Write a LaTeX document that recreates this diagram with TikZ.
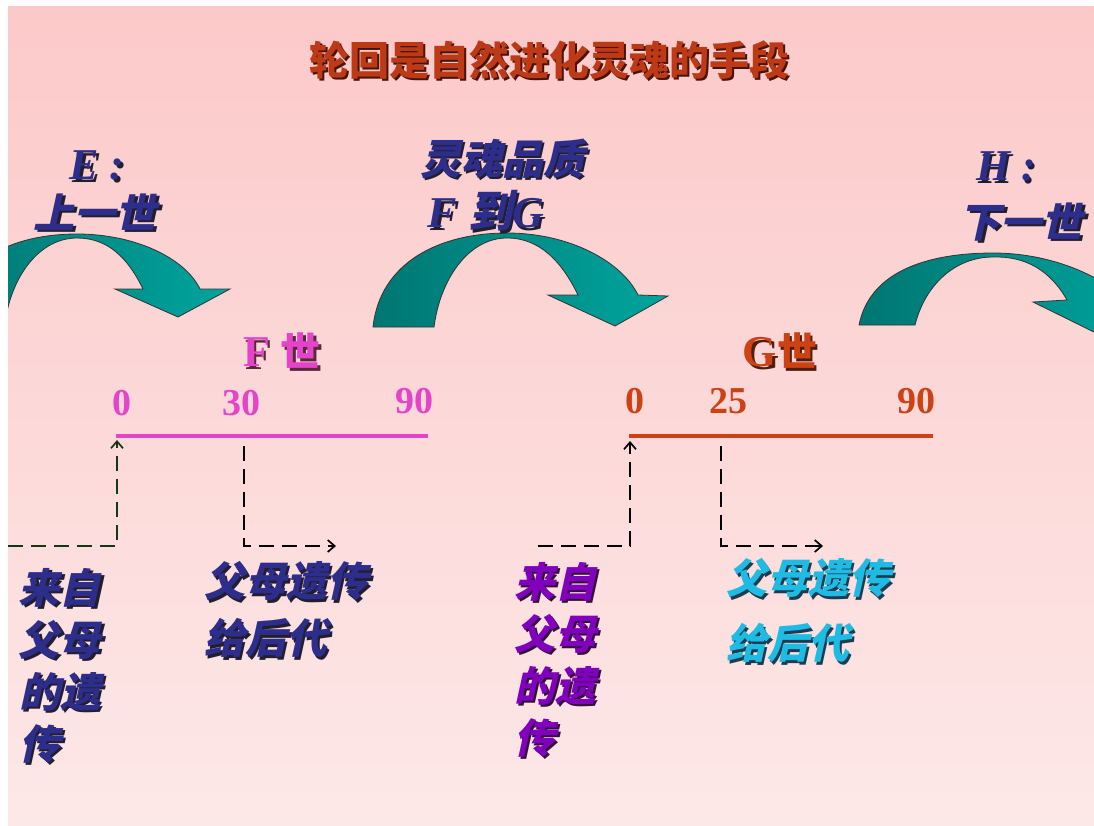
\documentclass[tikz,border=0pt]{standalone}
\usepackage{fontspec}
\setmainfont{Liberation Serif}
\newfontfamily\cjk{Noto Sans CJK SC}
\newfontfamily\cjksl{Noto Sans CJK SC}[FakeSlant=0.22]
\usetikzlibrary{arrows.meta}
\definecolor{bgtop}{RGB}{252,201,201}
\definecolor{bgbot}{RGB}{253,232,232}
\definecolor{titlered}{RGB}{190,58,22}
\definecolor{titlesh}{RGB}{70,20,10}
\definecolor{navy}{RGB}{45,45,140}
\definecolor{navysh}{RGB}{35,30,45}
\definecolor{mag}{RGB}{228,68,200}
\definecolor{magsh}{RGB}{90,40,60}
\definecolor{orng}{RGB}{205,66,20}
\definecolor{orngsh}{RGB}{80,30,15}
\definecolor{purp}{RGB}{128,0,190}
\definecolor{purpsh}{RGB}{50,20,50}
\definecolor{cyanx}{RGB}{30,188,228}
\definecolor{cyansh}{RGB}{30,60,80}
\definecolor{tealdk}{RGB}{0,118,114}
\definecolor{teallt}{RGB}{0,165,158}
\definecolor{dashgreen}{RGB}{20,55,20}
\newcommand\shd[2]{\leavevmode\rlap{\kern2.5pt\raisebox{-2.5pt}{\textcolor{#1}{#2}}}#2}
\newcommand\cbs[1]{{\cjksl\bfseries #1}}
\begin{document}
\begin{tikzpicture}[x=1pt,y=-1pt,
  txt/.style={inner sep=0pt, outer sep=0pt},
  titletxt/.style={txt, text=titlered, font=\cjk\bfseries\fontsize{40}{48}\selectfont},
  bluecjk/.style={txt, text=navy, font=\cjksl\bfseries\fontsize{41}{52}\selectfont, align=left},
  bluelat/.style={txt, text=navy, font=\bfseries\itshape\fontsize{44}{50}\selectfont},
  numtxt/.style={txt, font=\bfseries\fontsize{38}{44}\selectfont},
  curvearrow/.style={left color=tealdk, right color=teallt, draw=black!80, line width=0.8pt},
  axisline/.style={line width=4.5pt},
  dashconn/.style={dash pattern=on 15pt off 8pt, line width=1.9pt, -{Straight Barb[length=7pt,width=12pt,line width=1.7pt]}}
]
\useasboundingbox (0,0) rectangle (1094,825);
\fill[white] (-5,-5) rectangle (1100,830);
\shade[top color=bgtop, bottom color=bgbot] (8,6) rectangle (1100,830);

\begin{scope}
\clip (8,6) rectangle (1100,830);
% arrow 1
\path[curvearrow] (-50,322) .. controls (-45,262) and (10,234) .. (77,234)
  .. controls (135,234) and (185,258) .. (200,289)
  -- (230,289) -- (178,317) -- (115,289) -- (143,289)
  .. controls (128,258) and (108,238) .. (77,238)
  .. controls (40,238) and (12,275) .. (5,322) -- cycle;
% arrow 2
\path[curvearrow] (373,327) .. controls (380,262) and (440,233) .. (507,233)
  .. controls (570,233) and (622,262) .. (638,295)
  -- (668,296) -- (615,326) -- (548,295) -- (578,295)
  .. controls (562,262) and (540,238) .. (507,238)
  .. controls (468,238) and (440,280) .. (434,327) -- cycle;
% arrow 3
\path[curvearrow] (859,325) .. controls (870,270) and (930,253) .. (993,253)
  .. controls (1050,253) and (1100,275) .. (1126,300)
  -- (1155,302) -- (1100,335) -- (1033,302) -- (1067,300)
  .. controls (1050,270) and (1025,256) .. (993,257)
  .. controls (955,257) and (925,285) .. (915,325) -- cycle;
\end{scope}

% title
\node[titletxt] (title) at (549,61) {\shd{titlesh}{轮回是自然进化灵魂的手段}};

% upper labels
\node[bluelat] (Elab) at (97,167) {\shd{navysh}{E :}};
\node[bluecjk] (Eprev) at (95,213) {\shd{navysh}{上一世}};
\node[bluecjk] (soul) at (502,160) {\shd{navysh}{灵魂品质}};
\node[bluelat] (FtoG) at (486,212) {\shd{navysh}{F \cbs{到}G}};
\node[bluelat] (Hlab) at (1006,168) {\shd{navysh}{H :}};
\node[bluecjk] (Hnext) at (1021,223) {\shd{navysh}{下一世}};

% life labels
\node[txt, text=mag, font=\bfseries\fontsize{44}{50}\selectfont] (Flife) at (282,352) {\shd{magsh}{F {\cjk\bfseries\fontsize{40}{48}\selectfont 世}}};
\node[txt, text=orng, font=\bfseries\fontsize{44}{50}\selectfont] (Glife) at (780,352) {\shd{orngsh}{G{\cjk\bfseries\fontsize{40}{48}\selectfont 世}}};

% numbers
\node[numtxt, text=mag] (n0) at (122,403) {0};
\node[numtxt, text=mag] (n30) at (241,403) {30};
\node[numtxt, text=mag] (n90) at (414,401) {90};
\node[numtxt, text=orng] (m0) at (635,401) {0};
\node[numtxt, text=orng] (m25) at (728,401) {25};
\node[numtxt, text=orng] (m90) at (916,401) {90};

% axis lines
\coordinate (F0) at (116,436);
\coordinate (F90) at (428,436);
\coordinate (G0) at (629,436);
\coordinate (G90) at (933,436);
\draw[axisline, mag] (F0) -- (F90);
\draw[axisline, orng] (G0) -- (G90);

% dashed connectors
\coordinate (Fin) at (8,546);
\coordinate (FinT) at (117,440);
\coordinate (Fout) at (244,446);
\coordinate (FoutE) at (336,546);
\coordinate (Gin) at (538,546);
\coordinate (GinT) at (630,441);
\coordinate (Gout) at (721,446);
\coordinate (GoutE) at (823,546);
\draw[dashconn, dashgreen] (Fin) -| (FinT);
\draw[dashconn, black] (Fout) |- (FoutE);
\draw[dashconn, black] (Gin) -| (GinT);
\draw[dashconn, black] (Gout) |- (GoutE);

% lower texts
\node[bluecjk, anchor=west] (Finh) at (19,667) {\shd{navysh}{来自}\\\shd{navysh}{父母}\\\shd{navysh}{的遗}\\\shd{navysh}{传}};
\node[bluecjk, anchor=west, font=\cjksl\bfseries\fontsize{41}{57}\selectfont] (Fpass) at (204,611) {\shd{navysh}{父母遗传}\\\shd{navysh}{给后代}};
\node[bluecjk, anchor=west, text=purp] (Ginh) at (514,661) {\shd{purpsh}{来自}\\\shd{purpsh}{父母}\\\shd{purpsh}{的遗}\\\shd{purpsh}{传}};
\node[bluecjk, anchor=west, text=cyanx, font=\cjksl\bfseries\fontsize{41}{65}\selectfont] (Gpass) at (726,612) {\shd{cyansh}{父母遗传}\\\shd{cyansh}{给后代}};
\end{tikzpicture}
\end{document}
